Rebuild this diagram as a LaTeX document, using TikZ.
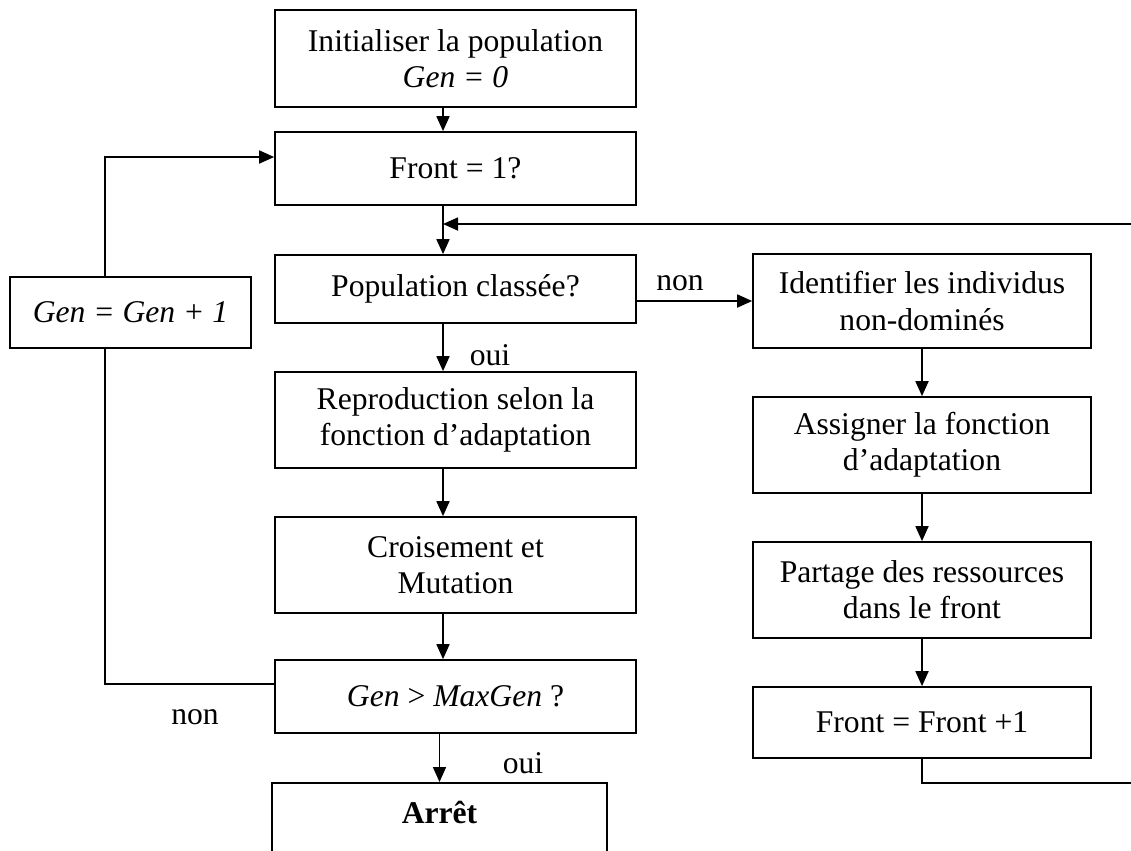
\documentclass[tikz,border=0pt]{standalone}
\usepackage{fontspec}
\setmainfont{Liberation Serif}
\usetikzlibrary{arrows.meta}

\begin{document}
\begin{tikzpicture}[x=0.02cm,y=-0.02cm,font=\fontsize{18}{20.5}\selectfont,
  box/.style={draw, line width=1pt, align=center, inner sep=0pt},
  arr/.style={-{Triangle[length=0.3cm,width=0.26cm]}, line width=1pt}]

\useasboundingbox (0,0) rectangle (1131,850);
\clip (0,0) rectangle (1131,850);

\coordinate (c) at (443,0);
\coordinate (g) at (105,0);
\coordinate (j) at (443,224);

% main column
\node[box, minimum width=7.22cm, minimum height=1.94cm] (init) at (455.5,58.5) {Initialiser la population\\ \textit{Gen = 0}};
\node[box, minimum width=7.22cm, minimum height=1.46cm] (front) at (455.5,168.5) {Front = 1?};
\node[box, minimum width=7.22cm, minimum height=1.36cm] (pop) at (455.5,289) {Population classée?};
\node[box, minimum width=7.22cm, minimum height=1.92cm] (repro) at (455.5,420) {Reproduction selon la\\ fonction d’adaptation};
\node[box, minimum width=7.22cm, minimum height=1.92cm] (crois) at (455.5,565) {Croisement et\\ Mutation};
\node[box, minimum width=7.22cm, minimum height=1.46cm] (maxgen) at (455.5,696.5) {\textit{Gen} > \textit{MaxGen} ?};
\node[box, minimum width=6.7cm, minimum height=2.1cm, anchor=north] (arret) at (439.5,782) {\textbf{Arrêt}\\ \strut};

% generation counter
\node[box, minimum width=4.82cm, minimum height=1.42cm] (gen) at (130.5,312.5) {\textit{Gen = Gen + 1}};

% ranking of the fronts
\node[box, minimum width=6.76cm, minimum height=1.88cm] (ident) at (922,301) {Identifier les individus\\ non-dominés};
\node[box, minimum width=6.76cm, minimum height=1.92cm] (assign) at (922,445) {Assigner la fonction\\ d’adaptation};
\node[box, minimum width=6.76cm, minimum height=1.92cm] (share) at (922,590) {Partage des ressources\\ dans le front};
\node[box, minimum width=6.76cm, minimum height=1.42cm] (finc) at (922,722.5) {Front = Front +1};

\draw[arr] (init.south -| c) -- (front.north -| c);
\draw[line width=1pt] (front.south -| c) -- (j);
\draw[arr] (j) -- (pop.north -| c);
\draw[arr] (pop.south -| c) -- (repro.north -| c);
\node (oui1) at (490,355) {oui};
\draw[arr] (repro.south -| c) -- (crois.north -| c);
\draw[arr] (crois.south -| c) -- (maxgen.north -| c);
\draw[arr] (maxgen.south -| arret.north) -- (arret.north);
\node (oui2) at (523,763) {oui};

\draw[arr] (pop.east |- ident.west) -- (ident.west);
\node (non1) at (680,283) {non};
\draw[arr] (ident) -- (assign);
\draw[arr] (assign) -- (share);
\draw[arr] (share) -- (finc);
\draw[arr] (finc.south) |- (1150,783) |- (j);

% back to the next generation
\draw[line width=1pt] ([yshift=0.25cm]maxgen.west) -| (gen.south -| g);
\draw[arr] (gen.north -| g) |- ([yshift=0.23cm]front.west);
\node (non2) at (195,717) {non};

\end{tikzpicture}
\end{document}
